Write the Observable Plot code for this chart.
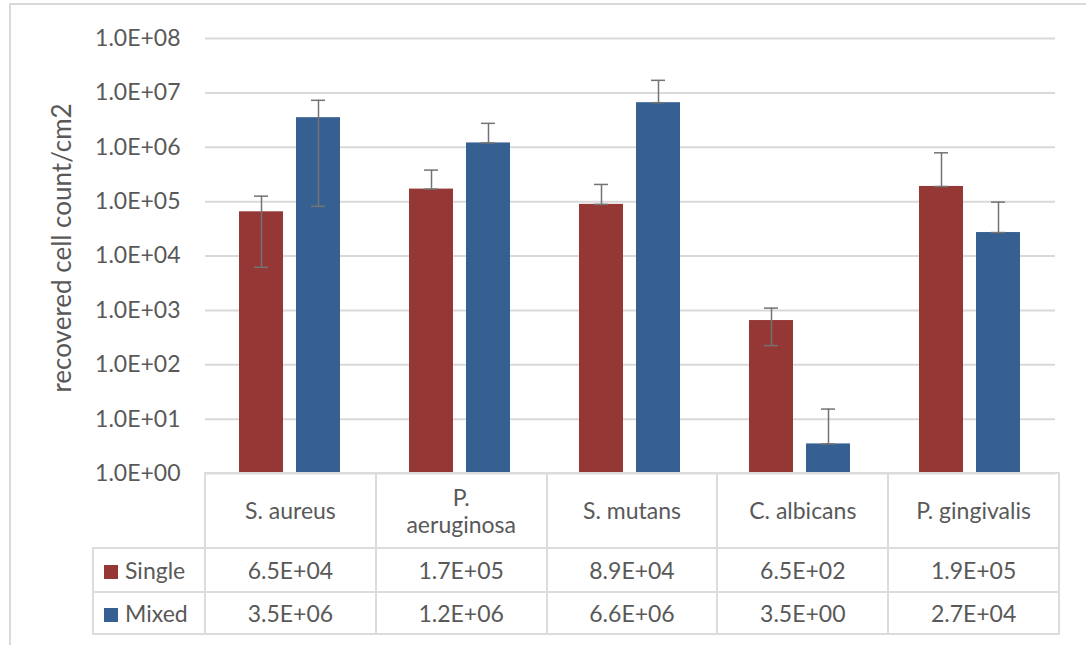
<!DOCTYPE html>
<html>
<head>
<meta charset="utf-8">
<script src="https://cdn.jsdelivr.net/npm/d3@7"></script>
<script src="https://cdn.jsdelivr.net/npm/@observablehq/plot@0.6"></script>
<style>
  html, body { margin: 0; padding: 0; background: #fff; }
  body { width: 1086px; height: 645px; position: relative; overflow: hidden; font-family: Lato, sans-serif; color: #595959; }
  #frame { position: absolute; left: 9px; top: 3px; right: 0; bottom: 0; border-left: 2px solid #d9d9d9; border-top: 2px solid #d9d9d9; }
  #chart { position: absolute; left: 0; top: 0; }
  #table { position: absolute; left: 92px; top: 472px; border-collapse: collapse; font-size: 23px; color: #595959; table-layout: fixed; }
  #table td { border: 2px solid #dcdcdc; text-align: center; padding: 0; }
  #table td.blank { border-top: none; border-left: none; }
  #table td.leg { text-align: left; padding-left: 10px; white-space: nowrap; }
  #table .sw { display: inline-block; width: 14px; height: 14px; margin-right: 7px; vertical-align: 0px; }
  #table tr.head td { height: 73px; white-space: pre-line; line-height: 27px; }
  #table tr.r1 td { height: 42px; }
  #table tr.r2 td { height: 40px; }
</style>
</head>
<body>
<div id="frame"></div>
<div id="chart"></div>
<table id="table"></table>
<script>
// ---- data ----
const categories = ["S. aureus", "P. aeruginosa", "S. mutans", "C. albicans", "P. gingivalis"];
const categoryLabels = ["S. aureus", "P.\naeruginosa", "S. mutans", "C. albicans", "P. gingivalis"];
const seriesNames = ["Single", "Mixed"];
const seriesColors = ["#953735", "#376092"];
const singleValues = [6.5e4, 1.7e5, 8.9e4, 6.5e2, 1.9e5];
const mixedValues  = [3.5e6, 1.2e6, 6.6e6, 3.5e0, 2.7e4];
const singleErrHigh = [1.26e5, 3.8e5, 2.07e5, 1.1e3, 7.9e5];
const singleErrLow  = [6.2e3, 1.7e5, 8.9e4, 2.25e2, 1.9e5];
const mixedErrHigh  = [7.3e6, 2.75e6, 1.7e7, 15.3, 9.8e4];
const mixedErrLow   = [8.2e4, 1.2e6, 6.6e6, 3.5, 2.7e4];
const yTicks = [1e0, 1e1, 1e2, 1e3, 1e4, 1e5, 1e6, 1e7, 1e8];
const yTitle = "recovered cell count/cm2";

function sci(v) {
  const [m, e] = v.toExponential(1).split("e");
  const sign = e[0] === "-" ? "-" : "+";
  return m + "E" + sign + e.replace(/^[+-]/, "").padStart(2, "0");
}

const rows = [];
categories.forEach((c, i) => {
  rows.push({category: c, series: "Single", value: singleValues[i], hi: singleErrHigh[i], lo: singleErrLow[i]});
  rows.push({category: c, series: "Mixed", value: mixedValues[i], hi: mixedErrHigh[i], lo: mixedErrLow[i]});
});

const errColor = "#737373";

const chart = Plot.plot({
  width: 1086,
  height: 475,
  marginTop: 38,
  marginBottom: 2,
  marginLeft: 203,
  marginRight: 29,
  style: {fontFamily: "Lato, sans-serif", fontSize: "23px", color: "#595959", background: "transparent", overflow: "visible"},
  fx: {domain: categories, padding: 0, axis: null},
  x: {domain: seriesNames, paddingInner: 0.226, paddingOuter: 0.6, axis: null},
  y: {type: "log", domain: [1, 1e8]},
  color: {domain: seriesNames, range: seriesColors},
  marks: [
    Plot.gridY(yTicks, {stroke: "#d9d9d9", strokeOpacity: 1, strokeWidth: 2}),
    Plot.axisY(yTicks, {tickFormat: sci, tickSize: 0, tickPadding: 25, fontSize: 23, label: null}),
    Plot.axisY([], {label: yTitle, labelAnchor: "center", labelArrow: "none", labelOffset: 150, fontSize: 26}),
    Plot.barY(rows, {fx: "category", x: "series", y1: 1, y2: "value", fill: "series"}),
    Plot.ruleX(rows, {fx: "category", x: "series", y1: "lo", y2: "hi", stroke: errColor, strokeWidth: 1.5}),
    Plot.tickY(rows, {fx: "category", x: "series", y: "hi", stroke: errColor, strokeWidth: 1.5, insetLeft: 15, insetRight: 15}),
    Plot.tickY(rows, {fx: "category", x: "series", y: "lo", stroke: errColor, strokeWidth: 1.5, insetLeft: 15, insetRight: 15})
  ]
});
document.getElementById("chart").appendChild(chart);

// place the axis title like the reference (slightly above centre)
const labelG = d3.select(chart).select('g[aria-label="y-axis label"]');
labelG.attr("transform", null);
labelG.selectAll("*").attr("transform", null);
labelG.selectAll("text")
  .attr("transform", "translate(62,248) rotate(-90)")
  .attr("x", 0).attr("y", 0)
  .attr("text-anchor", "middle").attr("dy", "0.35em")
  .attr("font-size", 26);

// ---- data table below the chart ----
const table = d3.select("#table");
const colgroup = table.append("colgroup");
colgroup.append("col").style("width", "112px");
categories.forEach(() => colgroup.append("col").style("width", "170.8px"));
const head = table.append("tr").attr("class", "head");
head.append("td").attr("class", "blank");
categoryLabels.forEach(l => head.append("td").text(l));
[singleValues, mixedValues].forEach((vals, si) => {
  const tr = table.append("tr").attr("class", si === 0 ? "r1" : "r2");
  const leg = tr.append("td").attr("class", "leg");
  leg.append("span").attr("class", "sw").style("background", seriesColors[si]);
  leg.append("span").text(seriesNames[si]);
  vals.forEach(v => tr.append("td").text(sci(v)));
});
</script>
</body>
</html>
